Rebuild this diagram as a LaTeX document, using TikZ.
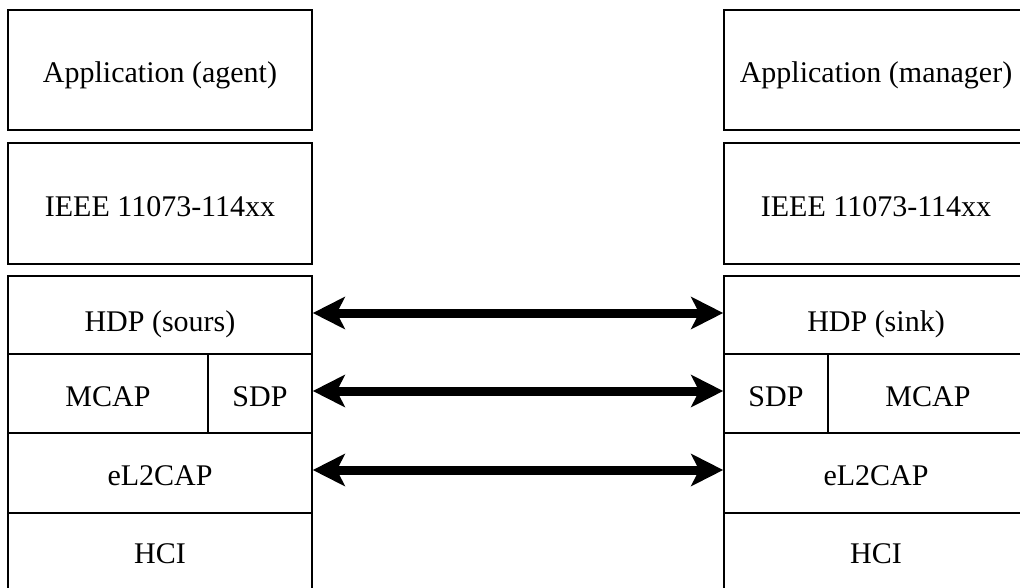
\documentclass[tikz,border=0pt]{standalone}
\usepackage{fontspec}
\setmainfont{Liberation Serif}
\usetikzlibrary{arrows.meta}
\tikzset{
  layer/.style={draw, line width=1.6pt, rectangle, inner sep=0pt, anchor=center,
    font=\fontsize{30}{36}\selectfont, text height=25pt, text depth=0pt},
  hdplayer/.style={layer, text height=32pt},
  link/.style={line width=9pt,
    {Stealth[length=32pt,width=32pt,inset=8pt]}-{Stealth[length=32pt,width=32pt,inset=8pt]}}
}
\begin{document}
\begin{tikzpicture}[x=1pt,y=-1pt]
\useasboundingbox (0,0) rectangle (1020,587);
\clip (0,0) rectangle (1020,587);
% left stack
\node[layer, minimum width=304pt, minimum height=120pt] (appL) at (160,70) {Application (agent)};
\node[layer, minimum width=304pt, minimum height=121pt] (ieeeL) at (160,203.5) {IEEE 11073-114xx};
\node[hdplayer, minimum width=304pt, minimum height=78pt] (hdpL) at (160,315) {HDP (sours)};
\node[layer, minimum width=200pt, minimum height=79pt] (mcapL) at (108,393.5) {MCAP};
\node[layer, minimum width=104pt, minimum height=79pt] (sdpL) at (260,393.5) {SDP};
\node[layer, minimum width=304pt, minimum height=80pt] (l2capL) at (160,473) {eL2CAP};
\node[layer, minimum width=304pt, minimum height=76pt] (hciL) at (160,551) {HCI};
% right stack
\node[layer, minimum width=304pt, minimum height=120pt] (appR) at (876,70) {Application (manager)};
\node[layer, minimum width=304pt, minimum height=121pt] (ieeeR) at (876,203.5) {IEEE 11073-114xx};
\node[hdplayer, minimum width=304pt, minimum height=78pt] (hdpR) at (876,315) {HDP (sink)};
\node[layer, minimum width=104pt, minimum height=79pt] (sdpR) at (776,393.5) {SDP};
\node[layer, minimum width=200pt, minimum height=79pt] (mcapR) at (928,393.5) {MCAP};
\node[layer, minimum width=304pt, minimum height=80pt] (l2capR) at (876,473) {eL2CAP};
\node[layer, minimum width=304pt, minimum height=76pt] (hciR) at (876,551) {HCI};
% links
\draw[link] ([yshift=2pt]hdpL.east) -- ([yshift=2pt]hdpR.west);
\draw[link] ([yshift=2.5pt]sdpL.east) -- ([yshift=2.5pt]sdpR.west);
\draw[link] ([yshift=3pt]l2capL.east) -- ([yshift=3pt]l2capR.west);
\end{tikzpicture}
\end{document}
